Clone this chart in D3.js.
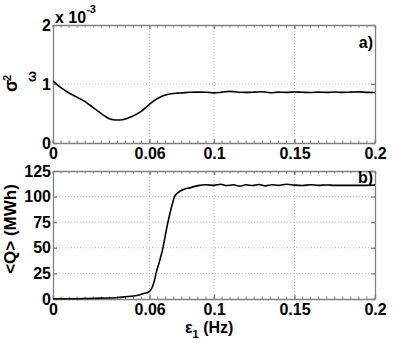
<!DOCTYPE html>
<html>
<head>
<meta charset="utf-8">
<script src="https://cdn.jsdelivr.net/npm/d3@7"></script>
<style>
  body { margin: 0; background: #fff; }
  svg { display: block; }
  text { font-family: "Liberation Sans", Arial, Helvetica, sans-serif; font-weight: bold; fill: #000; }
  .axis path, .axis line { stroke: #808080; stroke-width: 1.3; }
  .axis text { font-size: 16px; font-family: "Liberation Sans", Arial, sans-serif; font-weight: bold; }
  .minor line { stroke: #808080; stroke-width: 1; }
  .grid line { stroke: #bdbdbd; stroke-width: 1; stroke-dasharray: 1,2; }
</style>
</head>
<body>
<svg id="chart" width="415" height="343"></svg>
<script>
// panel a) : variance vs epsilon (values in units of 1e-3)
let epsA = [0, 0.0035, 0.0065, 0.0105, 0.014, 0.017, 0.02, 0.023, 0.026, 0.029, 0.032, 0.035, 0.0375, 0.04, 0.043, 0.046,
  0.049, 0.052, 0.055, 0.058, 0.061, 0.064, 0.067, 0.07, 0.0735, 0.077, 0.08, 0.085, 0.09, 0.095, 0.1, 0.105, 0.11,
  0.115, 0.12, 0.125, 0.13, 0.135, 0.14, 0.145, 0.15, 0.155, 0.16, 0.165, 0.17, 0.175, 0.18, 0.185, 0.19, 0.195, 0.2]
let sigmaA = [1.05, 0.97, 0.91, 0.84, 0.79, 0.745, 0.70, 0.64, 0.58, 0.52, 0.46, 0.41, 0.395, 0.39, 0.395, 0.415,
  0.45, 0.49, 0.54, 0.61, 0.68, 0.74, 0.785, 0.815, 0.835, 0.845, 0.85, 0.86, 0.862, 0.86, 0.85, 0.862, 0.875,
  0.86, 0.858, 0.862, 0.868, 0.852, 0.862, 0.858, 0.865, 0.86, 0.856, 0.862, 0.858, 0.864, 0.858, 0.862, 0.866, 0.858, 0.856]

// panel b) : mean Q vs epsilon
let epsB = [0, 0.01, 0.02, 0.03, 0.04, 0.045, 0.05, 0.054, 0.057, 0.06, 0.0615, 0.063, 0.064, 0.066, 0.0683, 0.07,
  0.0714, 0.073, 0.0745, 0.0755, 0.077, 0.079, 0.082, 0.085, 0.088, 0.091, 0.095, 0.1, 0.104, 0.108, 0.112, 0.116,
  0.12, 0.124, 0.128, 0.132, 0.136, 0.14, 0.145, 0.15, 0.155, 0.16, 0.165, 0.17, 0.175, 0.18, 0.19, 0.2]
let qB = [0.3, 0.3, 0.5, 0.9, 1.5, 2.2, 3, 4.2, 5.5, 7.5, 11, 18, 25, 36, 50, 64,
  75, 86, 95, 100, 103, 105.5, 107.5, 108.5, 110, 111, 111.5, 111, 112, 110.8, 111.5, 110.3,
  111.5, 110.8, 111.8, 110.5, 111.5, 111, 112, 111.2, 110.8, 111.6, 111, 111.4, 111, 111, 111, 111.2]

let xTicks = [0, 0.06, 0.1, 0.15, 0.2]
let xGrid = [0.06, 0.1, 0.15]
let yTicksA = [0, 1, 2]
let yGridA = [1]
let yTicksB = [0, 25, 50, 75, 100, 125]
let yGridB = [25, 50, 75, 100]

let svg = d3.select("#chart")
let plotLeft = 53, plotRight = 375

function drawPanel(opts) {
  let xScale = d3.scaleLinear().domain([0, 0.2]).range([plotLeft, plotRight])
  let yScale = d3.scaleLinear().domain(opts.yDomain).range([opts.bottom, opts.top])

  let g = svg.append("g")

  // grid
  g.append("g").attr("class", "grid").selectAll("line")
    .data(xGrid).join("line")
    .attr("x1", d => xScale(d)).attr("x2", d => xScale(d))
    .attr("y1", opts.top).attr("y2", opts.bottom)
  g.append("g").attr("class", "grid").selectAll("line")
    .data(opts.yGrid).join("line")
    .attr("x1", plotLeft).attr("x2", plotRight)
    .attr("y1", d => yScale(d)).attr("y2", d => yScale(d))

  // minor ticks on top and bottom edges
  let minor = d3.range(0, 0.2001, 0.005)
  g.append("g").attr("class", "minor").selectAll("line")
    .data(minor).join("line")
    .attr("x1", d => xScale(d)).attr("x2", d => xScale(d))
    .attr("y1", opts.bottom).attr("y2", opts.bottom - 2.5)
  g.append("g").attr("class", "minor").selectAll("line")
    .data(minor).join("line")
    .attr("x1", d => xScale(d)).attr("x2", d => xScale(d))
    .attr("y1", opts.top).attr("y2", opts.top + 2.5)

  // axes
  g.append("g").attr("class", "axis")
    .attr("transform", `translate(0,${opts.bottom})`)
    .call(d3.axisBottom(xScale).tickValues(xTicks).tickSizeInner(-4).tickSizeOuter(0).tickPadding(5)
      .tickFormat(d => String(d)))
  g.append("g").attr("class", "axis")
    .attr("transform", `translate(0,${opts.top})`)
    .call(d3.axisTop(xScale).tickValues(xTicks).tickSizeInner(-4).tickSizeOuter(0).tickFormat(""))
  g.append("g").attr("class", "axis")
    .attr("transform", `translate(${plotLeft},0)`)
    .call(d3.axisLeft(yScale).tickValues(opts.yTicks).tickSizeInner(-4).tickSizeOuter(0).tickPadding(2)
      .tickFormat(d => String(d)))
  g.append("g").attr("class", "axis")
    .attr("transform", `translate(${plotRight},0)`)
    .call(d3.axisRight(yScale).tickValues(opts.yTicks).tickSizeInner(-4).tickSizeOuter(0).tickFormat(""))

  // curve
  let line = d3.line()
    .x(d => xScale(d[0]))
    .y(d => yScale(d[1]))
    .curve(d3.curveMonotoneX)
  g.append("path")
    .datum(d3.zip(opts.xs, opts.ys))
    .attr("fill", "none")
    .attr("stroke", "#000")
    .attr("stroke-width", 1.6)
    .attr("d", line)

  // panel label
  g.append("text")
    .attr("x", plotRight - 2).attr("y", opts.labelY)
    .attr("text-anchor", "end")
    .style("font-size", "16px")
    .text(opts.label)
}

drawPanel({ top: 25, bottom: 143, yDomain: [0, 2], yTicks: yTicksA, yGrid: yGridA, xs: epsA, ys: sigmaA, label: "a)", labelY: 48 })
drawPanel({ top: 171, bottom: 299, yDomain: [0, 125], yTicks: yTicksB, yGrid: yGridB, xs: epsB, ys: qB, label: "b)", labelY: 183 })

// exponent label
let expo = svg.append("text").attr("x", 55).attr("y", 23).style("font-size", "16px")
expo.append("tspan").text("x 10")
expo.append("tspan").attr("dy", -10).style("font-size", "11px").text("-3")

// y label panel a
svg.append("text").attr("transform", "translate(17,92) rotate(-90)").style("font-size", "18px").text("σ")
svg.append("text").attr("transform", "translate(11,81) rotate(-90)").style("font-size", "11px").text("2")
svg.append("text").attr("transform", "translate(36,82) rotate(-90)").style("font-size", "13px").text("ω")

// y label panel b
svg.append("text").attr("transform", "translate(16,229) rotate(-90)")
  .attr("text-anchor", "middle").style("font-size", "17px").text("<Q> (MWh)")

// x label
let xl = svg.append("text").attr("x", 185).attr("y", 333).style("font-size", "16px")
xl.append("tspan").text("ε")
xl.append("tspan").attr("dy", 5).style("font-size", "11px").text("1")
xl.append("tspan").attr("dy", -5).text(" (Hz)")
</script>
</body>
</html>
